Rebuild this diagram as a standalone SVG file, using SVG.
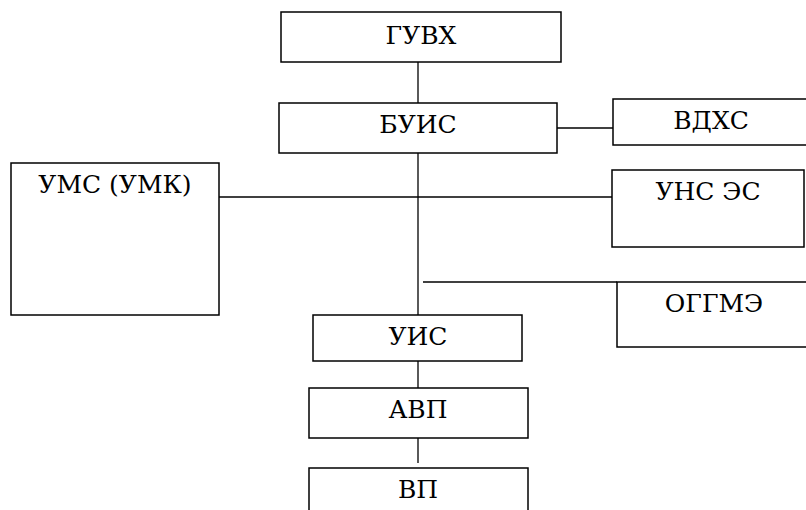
<svg xmlns="http://www.w3.org/2000/svg" width="806" height="510" viewBox="0 0 806 510">
<style>
.box{fill:#fff;stroke:#000;stroke-width:1.5}
.ln{stroke:#000;stroke-width:1.3;fill:none}
</style>
<rect width="806" height="510" fill="#fff"/>
<g id="connectors">
<line class="ln" x1="418" y1="56" x2="418" y2="103"/>
<line class="ln" x1="557" y1="128" x2="614" y2="128"/>
<line class="ln" x1="418" y1="153" x2="418" y2="315"/>
<line class="ln" x1="219" y1="197" x2="615" y2="197"/>
<line class="ln" x1="423" y1="282" x2="617" y2="282"/>
<line class="ln" x1="418" y1="361" x2="418" y2="388"/>
<line class="ln" x1="418" y1="437" x2="418" y2="463"/>
</g>
<g id="guvh"><rect class="box" x="281" y="12" width="280" height="50"/><text x="421" y="44" font-family="DejaVu Serif" font-size="25" text-anchor="middle">ГУВХ</text></g>
<g id="buis"><rect class="box" x="279" y="103" width="278" height="50"/><text x="418" y="133" font-family="DejaVu Serif" font-size="25" text-anchor="middle">БУИС</text></g>
<g id="vdhs"><rect class="box" x="613" y="99" width="200" height="46"/><text x="711" y="129" font-family="DejaVu Serif" font-size="25" text-anchor="middle">ВДХС</text></g>
<g id="ums"><rect class="box" x="11" y="163" width="208" height="152"/><text x="115" y="193" font-family="DejaVu Serif" font-size="25" text-anchor="middle">УМС (УМК)</text></g>
<g id="uns"><rect class="box" x="612" y="170" width="192" height="77"/><text x="708" y="200" font-family="DejaVu Serif" font-size="25" text-anchor="middle">УНС ЭС</text></g>
<g id="oggme"><rect class="box" x="617" y="282" width="200" height="65"/><text x="714" y="312" font-family="DejaVu Serif" font-size="25" text-anchor="middle">ОГГМЭ</text></g>
<g id="uis"><rect class="box" x="313" y="315" width="209" height="46"/><text x="418" y="345" font-family="DejaVu Serif" font-size="25" text-anchor="middle">УИС</text></g>
<g id="avp"><rect class="box" x="309" y="388" width="219" height="50"/><text x="418" y="418" font-family="DejaVu Serif" font-size="25" text-anchor="middle">АВП</text></g>
<g id="vp"><rect class="box" x="309" y="468" width="219" height="60"/><text x="418" y="498" font-family="DejaVu Serif" font-size="25" text-anchor="middle">ВП</text></g>
</svg>
